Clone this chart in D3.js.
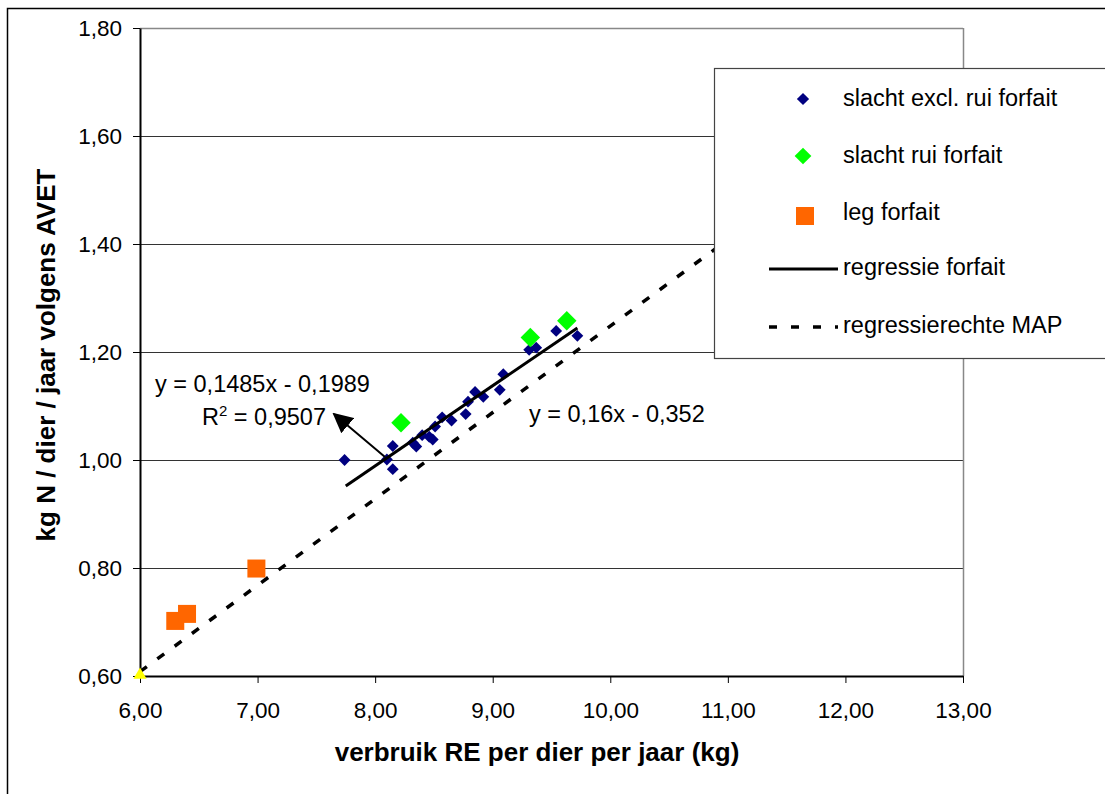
<!DOCTYPE html>
<html><head><meta charset="utf-8">
<script src="https://cdn.jsdelivr.net/npm/d3@7"></script>
<style>body{margin:0;background:#fff}svg{display:block;font-family:"Liberation Sans",Arial,sans-serif}</style>
</head><body><svg id="c" width="1105" height="794"></svg>
<script>
// Data
const xTicks = [6,7,8,9,10,11,12,13];
const yTicks = [0.6,0.8,1.0,1.2,1.4,1.6,1.8];
const slachtExclX = [7.74,8.10,8.15,8.15,8.32,8.35,8.40,8.46,8.49,8.51,8.57,8.65,8.77,8.79,8.85,8.92,9.06,9.09,9.31,9.37,9.54,9.72];
const slachtExclY = [1.000,1.001,1.026,0.983,1.032,1.025,1.046,1.043,1.038,1.062,1.079,1.073,1.085,1.108,1.126,1.117,1.130,1.159,1.204,1.208,1.239,1.230];
const slachtRuiX = [8.22,9.32,9.63];
const slachtRuiY = [1.069,1.227,1.258];
const legX = [6.30,6.40,6.99];
const legY = [0.702,0.715,0.799];
const extraX = [6.00];
const extraY = [0.60];
const regForfait = {slope:0.1485, intercept:-0.1989, x0:7.75, x1:9.72};
const regMAP = {slope:0.16, intercept:-0.352, x0:6.0, x1:11.0};
const legendLabels = ["slacht excl. rui forfait","slacht rui forfait","leg forfait","regressie forfait","regressierechte MAP"];

const svg = d3.select("#c");
const x = d3.scaleLinear().domain([6,13]).range([140,963]);
const y = d3.scaleLinear().domain([0.6,1.8]).range([676,28]);
const fmt = d => d3.format(".2f")(d).replace(".",",");
const FONT = "Liberation Sans, Arial, sans-serif";

// outer chart border
svg.append("rect").attr("x",7.5).attr("y",8.5).attr("width",1200).attr("height",900)
  .attr("fill","none").attr("stroke","#000").attr("stroke-width",1.5);

// gridlines
svg.append("g").selectAll("line").data(yTicks.slice(1)).join("line")
  .attr("x1",140).attr("x2",963).attr("y1",d=>Math.round(y(d))+0.5).attr("y2",d=>Math.round(y(d))+0.5)
  .attr("stroke","#333").attr("stroke-width",1);
// plot area border (right/top)
svg.append("line").attr("x1",963.5).attr("x2",963.5).attr("y1",28).attr("y2",676).attr("stroke","#888").attr("stroke-width",1.5);
svg.append("line").attr("x1",140).attr("x2",963).attr("y1",28.5).attr("y2",28.5).attr("stroke","#888").attr("stroke-width",1.5);

// axes
const xAxis = svg.append("g").attr("transform","translate(0,676)")
  .call(d3.axisBottom(x).tickValues(xTicks).tickFormat(fmt).tickSize(7).tickSizeOuter(0));
const yAxis = svg.append("g").attr("transform","translate(140,0)")
  .call(d3.axisLeft(y).tickValues(yTicks).tickFormat(fmt).tickSize(7).tickSizeOuter(0));
[xAxis,yAxis].forEach(a=>{
  a.attr("font-family",FONT).attr("font-size",22.5);
  a.select(".domain").attr("stroke","#000").attr("stroke-width",2);
  a.selectAll(".tick line").attr("stroke","#000").attr("stroke-width",1);
  a.selectAll("text").attr("fill","#000");
});
xAxis.selectAll("text").attr("y",26).attr("dy","0.71em");
yAxis.selectAll("text").attr("x",-18);

// axis titles
svg.append("text").attr("x",537).attr("y",761).attr("text-anchor","middle")
  .attr("font-size","26px").attr("font-weight","bold").text("verbruik RE per dier per jaar (kg)");
svg.append("text").attr("transform","translate(55,355) rotate(-90)").attr("text-anchor","middle")
  .attr("font-size","26px").attr("font-weight","bold").text("kg N / dier / jaar volgens AVET");

// regression lines
const lineGen = d3.line().x(d=>x(d[0])).y(d=>y(d[1]));
svg.append("path").datum([[regMAP.x0,regMAP.slope*regMAP.x0+regMAP.intercept],[regMAP.x1,regMAP.slope*regMAP.x1+regMAP.intercept]])
  .attr("d",lineGen).attr("stroke","#000").attr("stroke-width",3.5).attr("stroke-dasharray","8.5,13").attr("fill","none");

// points
const diamond = (s)=>d3.symbol().type(d3.symbolSquare).size(s);
svg.append("g").selectAll("path").data(slachtExclX.map((v,i)=>[v,slachtExclY[i]])).join("path")
  .attr("d",diamond(70)).attr("transform",d=>`translate(${x(d[0])},${y(d[1])}) rotate(45)`).attr("fill","#000080");
svg.append("g").selectAll("path").data(slachtRuiX.map((v,i)=>[v,slachtRuiY[i]])).join("path")
  .attr("d",diamond(190)).attr("transform",d=>`translate(${x(d[0])},${y(d[1])}) rotate(45)`).attr("fill","#00ff00");
svg.append("g").selectAll("rect").data(legX.map((v,i)=>[v,legY[i]])).join("rect")
  .attr("x",d=>x(d[0])-9).attr("y",d=>y(d[1])-9).attr("width",18).attr("height",18).attr("fill","#ff6600");
svg.append("g").selectAll("path").data(extraX.map((v,i)=>[v,extraY[i]])).join("path")
  .attr("d",d3.symbol().type(d3.symbolTriangle).size(75)).attr("transform",d=>`translate(${x(d[0])},${y(d[1])-1})`).attr("fill","#ffff00");

svg.append("path").datum([[regForfait.x0,regForfait.slope*regForfait.x0+regForfait.intercept],[regForfait.x1,regForfait.slope*regForfait.x1+regForfait.intercept]])
  .attr("d",lineGen).attr("stroke","#000").attr("stroke-width",3).attr("fill","none");

// annotations
svg.append("defs").append("marker").attr("id","ah").attr("viewBox","0 0 10 10").attr("refX",9).attr("refY",5)
  .attr("markerWidth",10).attr("markerHeight",10).attr("markerUnits","strokeWidth").attr("orient","auto")
  .append("path").attr("d","M0,0 L10,5 L0,10 Z").attr("fill","#000");
svg.append("line").attr("x1",385).attr("y1",457).attr("x2",334).attr("y2",414).attr("stroke","#000").attr("stroke-width",2).attr("marker-end","url(#ah)");
svg.append("text").attr("x",155).attr("y",392).attr("font-size","23.5px").text("y = 0,1485x - 0,1989");
const r2 = svg.append("text").attr("x",202).attr("y",425).attr("font-size","23.5px");
r2.append("tspan").text("R");
r2.append("tspan").attr("dy",-9).attr("font-size","15px").text("2");
r2.append("tspan").attr("dy",9).text(" = 0,9507");
svg.append("text").attr("x",529).attr("y",422).attr("font-size","23.5px").text("y = 0,16x - 0,352");

// legend
const lg = svg.append("g");
lg.append("rect").attr("x",714.5).attr("y",68.5).attr("width",420).attr("height",290).attr("fill","#fff").attr("stroke","#444").attr("stroke-width",1.2);
const rowY = [99,156,213,268,326];
lg.selectAll("text").data(legendLabels).join("text").attr("x",843).attr("y",(d,i)=>rowY[i]+7)
  .attr("font-size","23.5px").text(d=>d);
lg.append("path").attr("d",diamond(75)()).attr("transform",`translate(803,${rowY[0]}) rotate(45)`).attr("fill","#000080");
lg.append("path").attr("d",diamond(140)()).attr("transform",`translate(803,${rowY[1]}) rotate(45)`).attr("fill","#00ff00");
lg.append("rect").attr("x",796).attr("y",rowY[2]-6).attr("width",18).attr("height",18).attr("fill","#ff6600");
lg.append("line").attr("x1",769).attr("x2",838).attr("y1",rowY[3]+1).attr("y2",rowY[3]+1).attr("stroke","#000").attr("stroke-width",3);
lg.append("line").attr("x1",769).attr("x2",838).attr("y1",rowY[4]+1).attr("y2",rowY[4]+1).attr("stroke","#000").attr("stroke-width",3.5).attr("stroke-dasharray","8,14");
</script></body></html>
